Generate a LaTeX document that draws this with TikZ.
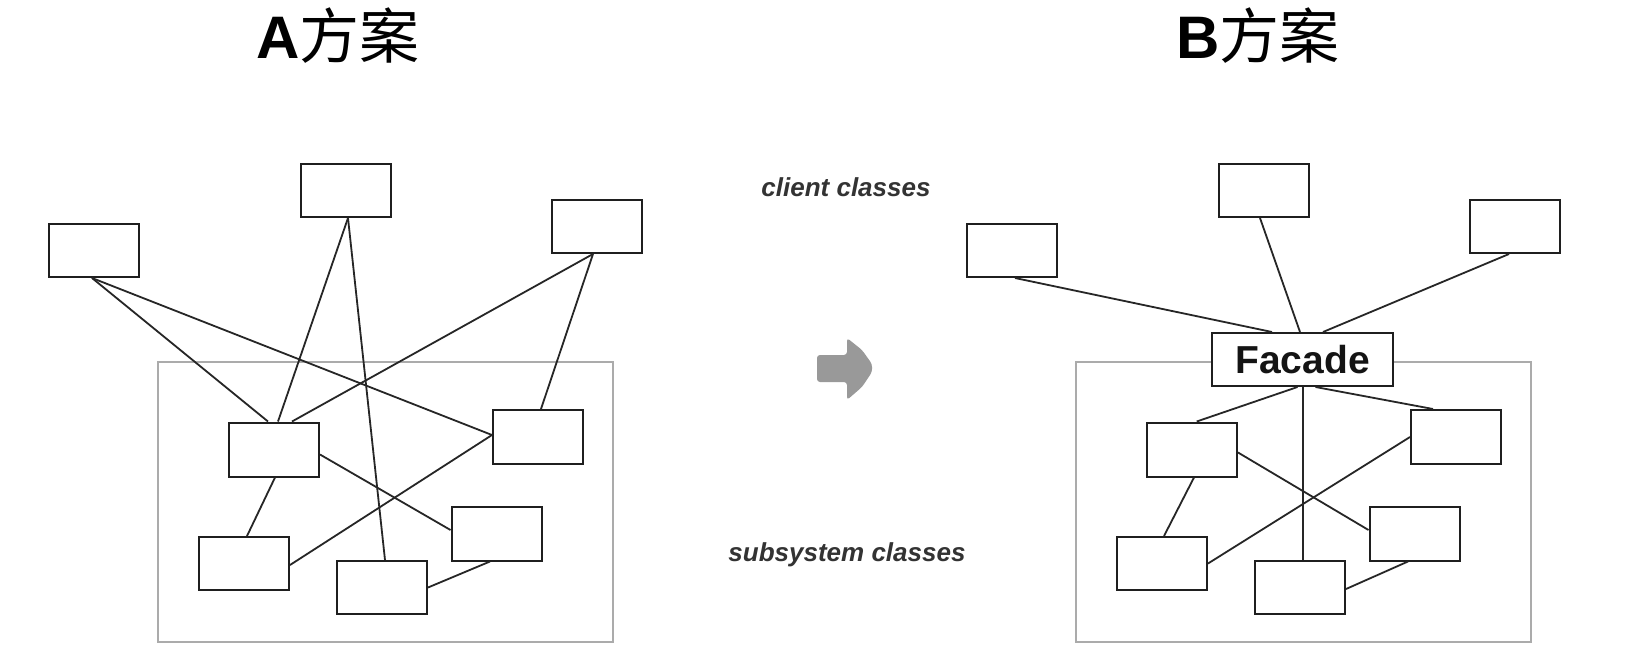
\documentclass[tikz,border=0pt]{standalone}
\usepackage{fontspec}
\setmainfont{Liberation Sans}
\newfontfamily\cjk{Noto Sans CJK SC}
\usetikzlibrary{calc}
\begin{document}
\begin{tikzpicture}[x=1pt,y=-1pt,
  cls/.style={draw=black!88, line width=2pt, fill=white, minimum width=90pt, minimum height=53pt, inner sep=0pt},
  sub/.style={cls, minimum height=54pt},
  link/.style={draw=black!85, line width=1.8pt},
  frame/.style={draw=black!33, line width=2pt, minimum width=455pt, minimum height=280pt, inner sep=0pt},
  ttl/.style={font=\fontsize{60pt}{72pt}\selectfont, inner sep=0pt},
  lbl/.style={font=\fontsize{26pt}{30pt}\selectfont\bfseries\itshape, text=black!80, inner sep=0pt},
  fac/.style={cls, minimum width=181pt, minimum height=53pt, font=\fontsize{39pt}{44pt}\selectfont\bfseries, text=black!92}]
\useasboundingbox (0,0) rectangle (1628,667);
\fill[white] (0,0) rectangle (1628,667);

% titles
\node[ttl, anchor=base] (TA) at (338,58) {{\bfseries A}{\cjk 方案}};
\node[ttl, anchor=base] (TB) at (1258,58) {{\bfseries B}{\cjk 方案}};

% labels
\node[lbl, anchor=base] (CC) at (846,196) {client classes};
\node[lbl, anchor=base] (SC) at (847,561) {subsystem classes};

% gray arrow
\fill[black!40, rounded corners=3pt] (817,355) -- (847,355) -- (847,338) -- (862,350) -- (872,364) -- (872,372) -- (862,387) -- (847,400) -- (847,382) -- (817,382) -- cycle;

% ---------- A ----------
\node[frame] (FA) at (385.5,502) {};
\node[cls] (L1) at (94,250.5) {};
\node[cls] (L2) at (346,190.5) {};
\node[cls] (L3) at (597,226.5) {};
\node[sub] (S1) at (274,449.5) {};
\node[sub] (S2) at (538,437) {};
\node[cls] (S3) at (244,563.5) {};
\node[sub] (S4) at (496.5,533.5) {};
\node[cls] (S5) at (382,587.5) {};

\draw[link] ([xshift=-2pt]L1.south) -- ([xshift=-6pt]S1.north);
\draw[link] ([xshift=-2pt]L1.south) -- ([yshift=2pt]S2.west);
\draw[link] ([xshift=2pt]L2.south) -- ([xshift=4pt]S1.north);
\draw[link] ([xshift=2pt]L2.south) -- ([xshift=3pt]S5.north);
\draw[link] ([xshift=-4pt]L3.south) -- ([xshift=18pt]S1.north);
\draw[link] ([xshift=-4pt]L3.south) -- ([xshift=3pt]S2.north);
\draw[link] ([yshift=-5pt]S1.east) -- ([yshift=3.5pt]S4.west);
\draw[link] ([xshift=1pt]S1.south) -- ([xshift=3pt]S3.north);
\draw[link] ([yshift=2pt]S2.west) -- ([yshift=-1.5pt]S3.east);
\draw[link] ([xshift=-6.5pt]S4.south) -- (S5.east);

% ---------- B ----------
\node[frame] (FB) at (1303.5,502) {};
\node[cls] (R1) at (1012,250.5) {};
\node[cls] (R2) at (1264,190.5) {};
\node[cls] (R3) at (1515,226.5) {};
\node[fac] (F) at (1302.5,359.5) {Facade};
\node[sub] (T1) at (1192,449.5) {};
\node[sub] (T2) at (1456,437) {};
\node[cls] (T3) at (1162,563.5) {};
\node[sub] (T4) at (1414.5,533.5) {};
\node[cls] (T5) at (1300,587.5) {};

\draw[link] ([xshift=3pt]R1.south) -- ([xshift=-30.5pt]F.north);
\draw[link] ([xshift=-4pt]R2.south) -- ([xshift=-2.5pt]F.north);
\draw[link] ([xshift=-6pt]R3.south) -- ([xshift=20.5pt]F.north);
\draw[link] ([xshift=-5pt]F.south) -- ([xshift=4.7pt]T1.north);
\draw[link] ([xshift=13pt]F.south) -- ([xshift=-23pt]T2.north);
\draw[link, line width=2pt] ([xshift=0.5pt]F.south) -- ([xshift=0.5pt]F.south |- T5.north);
\draw[link] ([yshift=-3pt]T1.east) -- ([yshift=3.5pt]T4.west);
\draw[link] (T2.west) -- (T3.east);
\draw[link] ([xshift=2pt]T1.south) -- ([xshift=2pt]T3.north);
\draw[link] ([xshift=-6.5pt]T4.south) -- ([yshift=-1.5pt]T5.east);
\end{tikzpicture}
\end{document}
